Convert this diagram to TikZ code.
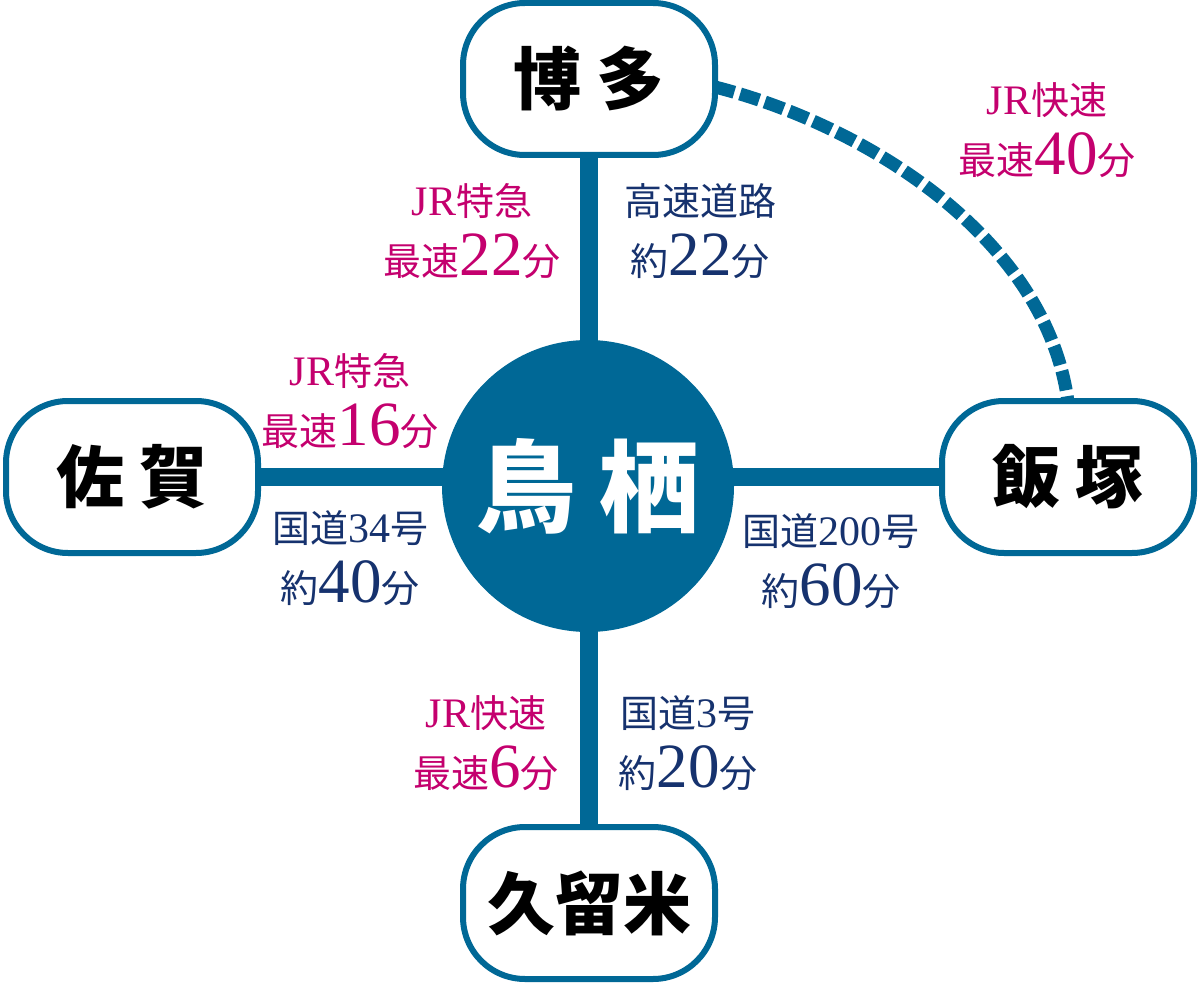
\documentclass[tikz,border=0pt]{standalone}
\usepackage{fontspec}
\setmainfont{Liberation Serif}
\newfontfamily\jp{Noto Sans CJK JP}
\usetikzlibrary{backgrounds,calc}

\definecolor{routeblue}{RGB}{0,104,150}
\definecolor{trainred}{RGB}{196,0,110}
\definecolor{roadnavy}{RGB}{22,50,110}

\newcommand{\jr}{{\rmfamily\fontsize{42}{60}\selectfont JR}}
\newcommand{\bignum}[1]{{\rmfamily\fontsize{63}{60}\selectfont #1}}
\newcommand{\smallnum}[1]{{\rmfamily\fontsize{42}{60}\selectfont #1}}

\begin{document}
\begin{tikzpicture}[x=1pt, y=-1pt,
  station/.style={draw=routeblue, line width=6pt, fill=white, rounded corners=62pt,
    minimum width=252pt, minimum height=152pt, inner sep=0pt,
    font=\jp\bfseries\fontsize{68}{68}\selectfont},
  hub/.style={circle, fill=routeblue, text=white, minimum size=292pt, inner sep=0pt,
    font=\jp\bfseries\fontsize{100}{100}\selectfont},
  route/.style={routeblue, line width=18pt},
  train/.style={text=trainred, align=center, inner sep=0pt, font=\jp\fontsize{38}{60}\selectfont},
  road/.style={text=roadnavy, align=center, inner sep=0pt, font=\jp\fontsize{38}{60}\selectfont}]
  \useasboundingbox (0,0) rectangle (1200,987);

  \node[hub] (tosu) at (588,486) {鳥 栖};
  \node[station] (hakata) at (589,79) {博 多};
  \node[station] (saga) at (132,477) {佐 賀};
  \node[station] (iizuka) at (1068,477) {飯 塚};
  \node[station] (kurume) at (589,903) {久留米};

  \begin{scope}[on background layer]
    \draw[route] (hakata) -- (hakata |- tosu);
    \draw[route] (kurume) -- (kurume |- tosu);
    \draw[route] (saga) -- (saga -| tosu);
    \draw[route] (iizuka) -- (iizuka -| tosu);
    % JR rapid, Hakata to Iizuka
    \draw[route, line width=13pt, dash pattern=on 20pt off 6pt]
      ($(hakata.east)+(-3,8)$) .. controls +(150,38) and +(-22,-165) .. ($(iizuka.north)+(0,4)$);
  \end{scope}

  \node[train] (jrhakata) at (472,231) {\jr 特急\\最速\bignum{22}分};
  \node[road] (rdhakata) at (700,231) {高速道路\\約\bignum{22}分};
  \node[train] (jriizuka) at (1047,130) {\jr 快速\\最速\bignum{40}分};
  \node[train] (jrsaga) at (350,401) {\jr 特急\\最速\bignum{16}分};
  \node[road] (rdsaga) at (350,558) {国道\smallnum{34}号\\約\bignum{40}分};
  \node[road] (rdiizuka) at (831,561) {国道\smallnum{200}号\\約\bignum{60}分};
  \node[train] (jrkurume) at (486,743) {\jr 快速\\最速\bignum{6}分};
  \node[road] (rdkurume) at (688,743) {国道\smallnum{3}号\\約\bignum{20}分};
\end{tikzpicture}
\end{document}
